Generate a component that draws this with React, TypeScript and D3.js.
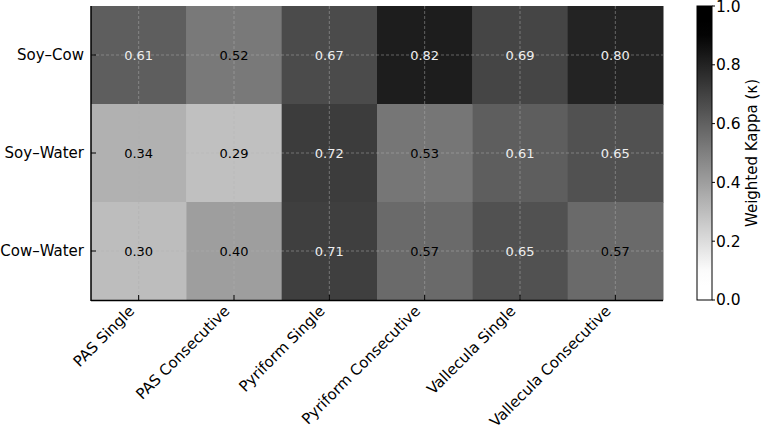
import { useEffect, useRef } from 'react'
import * as d3 from 'd3'

const methods = [
  'PAS Single',
  'PAS Consecutive',
  'Pyriform Single',
  'Pyriform Consecutive',
  'Vallecula Single',
  'Vallecula Consecutive',
]
const pairs = ['Soy–Cow', 'Soy–Water', 'Cow–Water']

const soyCow = [0.61, 0.52, 0.67, 0.82, 0.69, 0.8]
const soyWater = [0.34, 0.29, 0.72, 0.53, 0.61, 0.65]
const cowWater = [0.3, 0.4, 0.71, 0.57, 0.65, 0.57]

const cbTicks = [0, 0.2, 0.4, 0.6, 0.8, 1.0]

export default function App() {
  const ref = useRef<SVGSVGElement>(null)

  useEffect(() => {
    if (!ref.current) return
    const svg = d3.select(ref.current)
    svg.selectAll('*').remove()

    const font = 'DejaVu Sans, sans-serif'
    const left = 91
    const right = 663
    const top = 6
    const bottom = 300

    const rows = [soyCow, soyWater, cowWater]
    const cells = rows.flatMap((r, i) => r.map((v, j) => ({ row: pairs[i], col: methods[j], v })))

    const x = d3.scaleBand().domain(methods).range([left, right])
    const y = d3.scaleBand().domain(pairs).range([top, bottom])
    const shade = d3.scaleLinear<number>().domain([0.087, 0.913]).range([255, 0]).clamp(true)
    const color = (v: number) => d3.rgb(shade(v), shade(v), shade(v)).toString()

    svg.append('g')
      .selectAll('rect')
      .data(cells)
      .enter()
      .append('rect')
      .attr('x', d => x(d.col)!)
      .attr('y', d => y(d.row)!)
      .attr('width', x.bandwidth() + 0.5)
      .attr('height', y.bandwidth() + 0.5)
      .attr('fill', d => color(d.v))

    // dashed grid
    const grid = svg.append('g')
      .attr('stroke', '#b0b0b0')
      .attr('stroke-opacity', 0.6)
      .attr('stroke-dasharray', '3,2')
      .attr('stroke-width', 0.8)
    methods.forEach(m => {
      const cx = x(m)! + x.bandwidth() / 2
      grid.append('line').attr('x1', cx).attr('x2', cx).attr('y1', top).attr('y2', bottom)
    })
    pairs.forEach(p => {
      const cy = y(p)! + y.bandwidth() / 2
      grid.append('line').attr('x1', left).attr('x2', right).attr('y1', cy).attr('y2', cy)
    })

    // annotations
    svg.append('g')
      .selectAll('text')
      .data(cells)
      .enter()
      .append('text')
      .attr('x', d => x(d.col)! + x.bandwidth() / 2)
      .attr('y', d => y(d.row)! + y.bandwidth() / 2)
      .attr('dy', '0.35em')
      .attr('text-anchor', 'middle')
      .style('font-family', font)
      .style('font-size', '13px')
      .style('fill', d => (d.v > 0.6 ? '#eeeeee' : '#000000'))
      .text(d => d.v.toFixed(2))

    // spines
    svg.append('line').attr('x1', left).attr('x2', left).attr('y1', top).attr('y2', bottom + 1)
      .attr('stroke', '#000').attr('stroke-width', 1.5)
    svg.append('line').attr('x1', left).attr('x2', right).attr('y1', bottom + 0.5).attr('y2', bottom + 0.5)
      .attr('stroke', '#000').attr('stroke-width', 1.5)

    // ticks (inward)
    methods.forEach(m => {
      const cx = x(m)! + x.bandwidth() / 2
      svg.append('line').attr('x1', cx).attr('x2', cx).attr('y1', bottom).attr('y2', bottom - 5)
        .attr('stroke', '#000').attr('stroke-width', 1)
      svg.append('text')
        .attr('transform', `translate(${cx - 3.5},${bottom + 12}) rotate(-45)`)
        .attr('text-anchor', 'end')
        .style('font-family', font)
        .style('font-size', '15px')
        .style('fill', '#000')
        .text(m)
    })
    pairs.forEach(p => {
      const cy = y(p)! + y.bandwidth() / 2
      svg.append('line').attr('x1', left).attr('x2', left + 5).attr('y1', cy).attr('y2', cy)
        .attr('stroke', '#000').attr('stroke-width', 1)
      svg.append('text')
        .attr('x', left - 7)
        .attr('y', cy)
        .attr('dy', '0.35em')
        .attr('text-anchor', 'end')
        .style('font-family', font)
        .style('font-size', '15px')
        .style('fill', '#000')
        .text(p)
    })

    // colorbar
    const cbX = 697
    const cbW = 15
    const cbScale = d3.scaleLinear().domain([0, 1]).range([bottom, top])
    const defs = svg.append('defs')
    const grad = defs.append('linearGradient').attr('id', 'cbGrad')
      .attr('x1', 0).attr('y1', 1).attr('x2', 0).attr('y2', 0)
    d3.range(0, 1.0001, 0.05).forEach(t => {
      grad.append('stop').attr('offset', `${t * 100}%`).attr('stop-color', color(t))
    })
    svg.append('rect')
      .attr('x', cbX).attr('y', top).attr('width', cbW).attr('height', bottom - top)
      .attr('fill', 'url(#cbGrad)')
      .attr('stroke', '#000').attr('stroke-width', 1)

    cbTicks.forEach(t => {
      svg.append('line').attr('x1', cbX + cbW).attr('x2', cbX + cbW + 3)
        .attr('y1', cbScale(t)).attr('y2', cbScale(t))
        .attr('stroke', '#000').attr('stroke-width', 1)
      svg.append('text')
        .attr('x', cbX + cbW + 4)
        .attr('y', Math.max(cbScale(t), 7))
        .attr('dy', '0.35em')
        .style('font-family', font)
        .style('font-size', '15.5px')
        .style('fill', '#000')
        .text(t.toFixed(1))
    })

    svg.append('text')
      .attr('transform', `translate(752,${(top + bottom) / 2}) rotate(-90)`)
      .attr('text-anchor', 'middle')
      .attr('dy', '0.35em')
      .style('font-family', font)
      .style('font-size', '15px')
      .style('fill', '#000')
      .text('Weighted Kappa (κ)')
  }, [])

  return (
    <svg
      ref={ref}
      width={762}
      height={432}
      style={{ position: 'absolute', left: 0, top: 0, background: '#fff' }}
    />
  )
}
